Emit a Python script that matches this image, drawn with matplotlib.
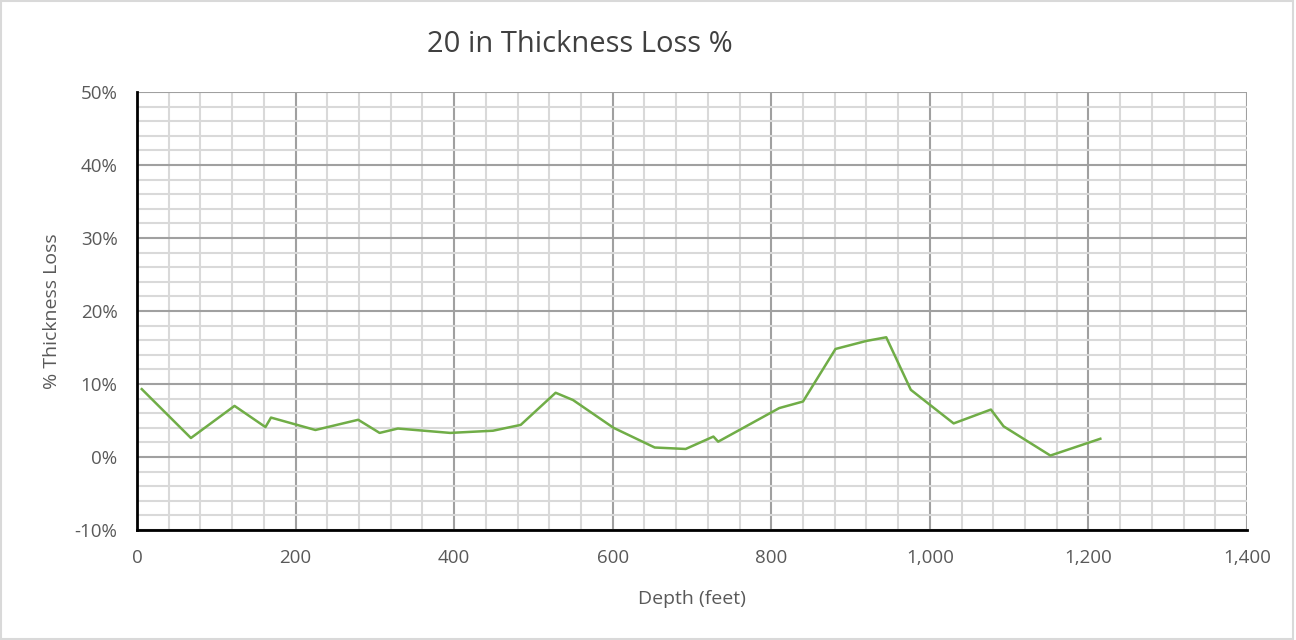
import matplotlib
matplotlib.use("Agg")
import matplotlib.pyplot as plt
from matplotlib.ticker import MultipleLocator, FuncFormatter
from matplotlib.patches import Rectangle

# depth (ft) and thickness loss (%)
depth = [6, 68, 123, 162, 169, 225, 279, 306, 329, 395, 449, 484, 528, 550,
         601, 653, 692, 727, 733, 810, 840, 881, 920, 945, 976, 1030, 1077,
         1093, 1152, 1215]
loss = [9.3, 2.6, 7.0, 4.1, 5.4, 3.7, 5.1, 3.3, 3.9, 3.3, 3.6, 4.4, 8.8, 7.8,
        4.0, 1.3, 1.1, 2.8, 2.1, 6.7, 7.6, 14.8, 15.9, 16.4, 9.2, 4.6, 6.5,
        4.2, 0.2, 2.5]

title = "20 in Thickness Loss %"
xlabel = "Depth (feet)"
ylabel = "% Thickness Loss"

plt.rcParams["font.family"] = ["Open Sans", "DejaVu Sans"]

fig = plt.figure(figsize=(12.96, 6.4), dpi=100)
ax = fig.add_axes([137 / 1296, 1 - 530 / 640, 1110 / 1296, 438 / 640])

ax.plot(depth, loss, color="#70AD47", linewidth=1.8, zorder=3)

ax.set_xlim(0, 1400)
ax.set_ylim(-10, 50)
ax.xaxis.set_major_locator(MultipleLocator(200))
ax.xaxis.set_minor_locator(MultipleLocator(40))
ax.yaxis.set_major_locator(MultipleLocator(10))
ax.yaxis.set_minor_locator(MultipleLocator(2))
ax.xaxis.set_major_formatter(FuncFormatter(lambda v, p: "{:,.0f}".format(v)))
ax.yaxis.set_major_formatter(FuncFormatter(lambda v, p: "{:.0f}%".format(v)))

ax.grid(which="minor", color="#d9d9d9", linewidth=1.5, zorder=0)
ax.grid(which="major", color="#a0a0a0", linewidth=1.5, zorder=1)
ax.set_axisbelow(True)

for s in ["top", "right"]:
    ax.spines[s].set_visible(False)
for s in ["left", "bottom"]:
    ax.spines[s].set_color("black")
    ax.spines[s].set_linewidth(2)
    ax.spines[s].set_zorder(4)

ax.tick_params(which="both", length=0, colors="#595959", labelsize=13.5)
ax.tick_params(axis="x", pad=14)
ax.tick_params(axis="y", pad=14)

ax.set_xlabel(xlabel, fontsize=14, color="#595959", labelpad=16)
ax.set_ylabel(ylabel, fontsize=14, color="#595959", labelpad=10)

fig.text(580 / 1296, 1 - 45 / 640, title, ha="center", va="center",
         fontsize=21, color="#404040")

fig.patches.append(Rectangle((0.001, 0.002), 0.997, 0.996, transform=fig.transFigure,
                             fill=False, edgecolor="#d9d9d9", linewidth=1.5))

fig.savefig("out.png", dpi=100)
